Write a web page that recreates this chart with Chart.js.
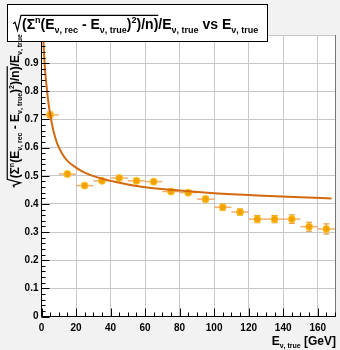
<!DOCTYPE html>
<html>
<head>
<meta charset="utf-8">
<script src="https://cdn.jsdelivr.net/npm/chart.js@4"></script>
<style>
  html, body { margin: 0; padding: 0; background: #f2f2f2; }
  #wrap { width: 340px; height: 350px; }
</style>
</head>
<body>
<div id="wrap"><canvas id="myChart" width="340" height="350"></canvas></div>
<script>
// measured points (bin centre, resolution, errors)
const energy = [5, 15, 25, 35, 45, 55, 65, 75, 85, 95, 105, 115, 125, 135, 145, 155, 165];
const energyErr = [5, 5, 5, 5, 5, 5, 5, 5, 5, 5, 5, 5, 5, 5, 5, 5, 5];
const resolution = [0.716, 0.506, 0.465, 0.482, 0.492, 0.482, 0.479, 0.444, 0.440, 0.417, 0.388, 0.371, 0.346, 0.346, 0.346, 0.319, 0.311];
const resolutionErr = [0.010, 0.007, 0.007, 0.006, 0.007, 0.007, 0.007, 0.008, 0.008, 0.010, 0.011, 0.011, 0.013, 0.013, 0.015, 0.016, 0.018];

// fitted curve
const fitE = [0.7, 1, 1.5, 2, 3, 4, 5, 6, 7, 9, 12, 15, 20, 25, 32, 43, 57, 75, 100, 125, 150, 168];
const fitRes = [1.03, 0.99, 0.93, 0.88, 0.815, 0.76, 0.72, 0.685, 0.657, 0.616, 0.578, 0.553, 0.529, 0.511, 0.495, 0.478, 0.462, 0.45, 0.438, 0.43, 0.424, 0.419];

const xTicks = [0, 20, 40, 60, 80, 100, 120, 140, 160];
const yTicks = [0, 0.1, 0.2, 0.3, 0.4, 0.5, 0.6, 0.7, 0.8, 0.9, 1];

const FONT = '"Liberation Sans", Arial, sans-serif';

// draw text made of [text, mode] pieces; mode 0 normal, 1 subscript, 2 superscript
function richWidth(ctx, segs, size) {
    let w = 0;
    segs.forEach(([t, m]) => {
        ctx.font = 'bold ' + (m ? Math.round(size * 0.62) : size) + 'px ' + FONT;
        w += ctx.measureText(t).width;
    });
    return w;
}
function drawRich(ctx, segs, x, y, size) {
    segs.forEach(([t, m]) => {
        const fs = m ? Math.round(size * 0.62) : size;
        ctx.font = 'bold ' + fs + 'px ' + FONT;
        const dy = m === 1 ? size * 0.28 : (m === 2 ? -size * 0.42 : 0);
        ctx.fillText(t, x, y + dy);
        x += ctx.measureText(t).width;
    });
    return x;
}
function drawRadical(ctx, x, y, size, w) {
    ctx.save();
    ctx.lineWidth = 1.2;
    ctx.beginPath();
    ctx.moveTo(x, y - size * 0.38);
    ctx.lineTo(x + 2, y - size * 0.48);
    ctx.lineTo(x + 4.5, y + 1.5);
    ctx.lineTo(x + 8, y - size * 0.98);
    ctx.lineTo(x + 9 + w, y - size * 0.98);
    ctx.stroke();
    ctx.restore();
    return x + 9;
}

const inner = [['(Σ', 0], ['n', 2], ['(E', 0], ['ν, rec', 1], [' - E', 0], ['ν, true', 1], [')', 0], ['2', 2], [')/n)', 0]];
const outer = [['/E', 0], ['ν, true', 1]];
const vsPart = [[' vs E', 0], ['ν, true', 1]];

function drawFormula(ctx, x, y, size, withVs) {
    const w = richWidth(ctx, inner, size);
    let cx = drawRadical(ctx, x, y, size, w);
    cx = drawRich(ctx, inner, cx, y, size);
    cx = drawRich(ctx, outer, cx, y, size);
    if (withVs) cx = drawRich(ctx, vsPart, cx, y, size);
    return cx;
}
function formulaWidth(ctx, size, withVs) {
    return 9 + richWidth(ctx, inner, size) + richWidth(ctx, outer, size) + (withVs ? richWidth(ctx, vsPart, size) : 0);
}

const rootDecor = {
    id: 'rootDecor',
    beforeDraw(chart) {
        const { ctx, chartArea: a } = chart;
        ctx.save();
        ctx.fillStyle = '#ffffff';
        ctx.fillRect(a.left, a.top, a.right - a.left, a.bottom - a.top);
        ctx.restore();
    },
    beforeDatasetsDraw(chart) {
        const { ctx, scales: { x, y } } = chart;
        ctx.save();
        // horizontal error bars
        ctx.strokeStyle = 'rgba(240, 160, 90, 0.85)';
        ctx.lineWidth = 1.5;
        energy.forEach((e, i) => {
            const py = y.getPixelForValue(resolution[i]);
            ctx.beginPath();
            ctx.moveTo(x.getPixelForValue(e - energyErr[i]), py);
            ctx.lineTo(Math.min(x.getPixelForValue(e + energyErr[i]), chart.chartArea.right), py);
            ctx.stroke();
        });
        // vertical error bars with caps
        ctx.strokeStyle = '#e08a20';
        ctx.lineWidth = 1;
        energy.forEach((e, i) => {
            const px = x.getPixelForValue(e);
            const y1 = y.getPixelForValue(resolution[i] - resolutionErr[i]);
            const y2 = y.getPixelForValue(resolution[i] + resolutionErr[i]);
            ctx.beginPath();
            ctx.moveTo(px, y1); ctx.lineTo(px, y2);
            ctx.moveTo(px - 3, y1); ctx.lineTo(px + 3, y1);
            ctx.moveTo(px - 3, y2); ctx.lineTo(px + 3, y2);
            ctx.stroke();
        });
        ctx.restore();
    },
    afterDraw(chart) {
        const { ctx, chartArea: a, scales: { x, y } } = chart;
        ctx.save();
        // right frame edge
        ctx.strokeStyle = '#777777';
        ctx.lineWidth = 1;
        ctx.beginPath();
        ctx.moveTo(a.right + 0.5, a.top);
        ctx.lineTo(a.right + 0.5, a.bottom);
        ctx.stroke();

        // ticks pointing inward
        ctx.strokeStyle = '#000000';
        ctx.beginPath();
        for (let v = 0; v <= 170; v += 5) {
            const px = Math.round(x.getPixelForValue(v)) + 0.5;
            const len = v % 20 === 0 ? 8 : 4;
            ctx.moveTo(px, a.bottom);
            ctx.lineTo(px, a.bottom - len);
        }
        for (let k = 0; k <= 50; k++) {
            const py = Math.round(y.getPixelForValue(k * 0.02)) + 0.5;
            const len = k % 5 === 0 ? 8 : 4;
            ctx.moveTo(a.left, py);
            ctx.lineTo(a.left + len, py);
        }
        ctx.stroke();

        // title box
        ctx.fillStyle = '#ffffff';
        ctx.fillRect(7, 4, 260, 37);
        ctx.strokeStyle = '#000000';
        ctx.lineWidth = 1;
        ctx.strokeRect(7.5, 4.5, 260, 37);
        ctx.fillStyle = '#000000';
        ctx.strokeStyle = '#000000';
        drawFormula(ctx, 13, 29, 14, true);

        // y axis title, rotated, aligned to the top
        const ys = 12;
        const yw = formulaWidth(ctx, ys, false);
        ctx.save();
        ctx.translate(19, a.top - 1);
        ctx.rotate(-Math.PI / 2);
        drawFormula(ctx, -yw, 0, ys, false);
        ctx.restore();

        // x axis title, aligned to the right
        const xt = [['E', 0], ['ν, true', 1], [' [GeV]', 0]];
        const xw = richWidth(ctx, xt, 12);
        drawRich(ctx, xt, 336 - xw, 345, 12);
        ctx.restore();
    }
};

const ctx = document.getElementById('myChart').getContext('2d');
const myChart = new Chart(ctx, {
    type: 'scatter',
    data: {
        datasets: [{
            type: 'line',
            label: 'fit',
            data: fitE.map((e, i) => ({ x: e, y: fitRes[i] })),
            borderColor: '#d2690e',
            borderWidth: 2,
            pointRadius: 0,
            cubicInterpolationMode: 'monotone',
            fill: false,
            order: 0
        }, {
            label: 'resolution',
            data: energy.map((e, i) => ({ x: e, y: resolution[i] })),
            backgroundColor: '#f2a200',
            borderColor: '#ffc41f',
            borderWidth: 1,
            pointRadius: 3.5,
            order: 1
        }]
    },
    options: {
        responsive: false,
        animation: false,
        devicePixelRatio: 1,
        layout: { padding: { top: 35, right: 3, left: 0, bottom: 0 } },
        plugins: { legend: { display: false }, tooltip: { enabled: false } },
        scales: {
            x: {
                type: 'linear',
                min: 0,
                max: 170,
                afterFit: (s) => { s.height = 33.5; },
                afterBuildTicks: (s) => { s.ticks = xTicks.map(v => ({ value: v })); },
                grid: { color: '#c8c8c8', borderDash: [1, 2], drawTicks: false },
                border: { color: '#000000', width: 1 },
                ticks: {
                    padding: 6,
                    color: '#000000',
                    font: { family: FONT, size: 10, weight: 'bold' },
                    maxRotation: 0
                }
            },
            y: {
                min: 0,
                max: 1,
                afterFit: (s) => { s.width = 41.5; },
                afterBuildTicks: (s) => { s.ticks = yTicks.map(v => ({ value: v })); },
                grid: { color: '#c8c8c8', borderDash: [1, 2], drawTicks: false },
                border: { color: '#000000', width: 1 },
                ticks: {
                    padding: 3,
                    color: '#000000',
                    font: { family: FONT, size: 10, weight: 'bold' },
                    callback: (v) => v === 0 ? '0' : (v >= 1 ? '' : v.toFixed(1))
                }
            }
        }
    },
    plugins: [rootDecor]
});
</script>
</body>
</html>
